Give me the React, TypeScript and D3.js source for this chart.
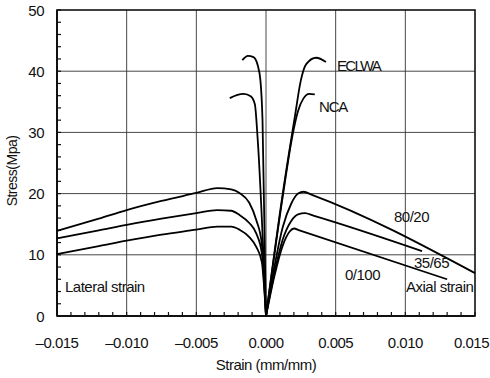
import * as d3 from 'd3'

// axis ticks
const xTicks = [-0.015, -0.01, -0.005, 0, 0.005, 0.01, 0.015]
const xTickLabels = ['–0.015', '–0.010', '–0.005', '0.000', '0.005', '0.010', '0.015']
const yTicks = [0, 10, 20, 30, 40, 50]
const yTickLabels = ['0', '10', '20', '30', '40', '50']

// lateral strain branches (negative strain)
const latX = [-0.015, -0.012, -0.01, -0.0075, -0.005, -0.0035, -0.0025, -0.0019, -0.0012, -0.0007, -0.0003, 0]
const lat8020 = [13.9, 15.9, 17.3, 18.8, 20.1, 20.9, 20.7, 20.1, 18.5, 15.7, 11.8, 0]
const lat3565 = [12.7, 14.0, 14.9, 15.9, 16.8, 17.3, 17.2, 16.5, 15.2, 13.5, 10.3, 0]
const lat0100 = [10.1, 11.4, 12.3, 13.3, 14.1, 14.6, 14.6, 14.1, 12.9, 11.3, 8.8, 0]

// axial strain branches
const ax8020X = [0, 0.0006, 0.0012, 0.0018, 0.0023, 0.0027, 0.0033, 0.015]
const ax8020 = [0, 8, 14.5, 18.3, 20.0, 20.3, 19.8, 7.0]
const ax3565X = [0, 0.0006, 0.0012, 0.0018, 0.0023, 0.0028, 0.0034, 0.0112]
const ax3565 = [0, 7, 12.5, 15.5, 16.6, 16.8, 16.4, 10.6]
const ax0100X = [0, 0.0006, 0.0012, 0.0017, 0.002, 0.0024, 0.013]
const ax0100 = [0, 6.5, 11.5, 13.8, 14.3, 14.0, 6.0]

// ECLWA / NCA
const eclwaLatX = [-0.0017, -0.0013, -0.0009, -0.0006, -0.0004, -0.00025, 0]
const eclwaLat = [41.8, 42.5, 42.3, 41.0, 38.5, 32, 0]
const eclwaAxX = [0, 0.0012, 0.0021, 0.0025, 0.0029, 0.0036, 0.0043]
const eclwaAx = [0, 20, 33, 38.5, 41.2, 42.2, 41.5]
const ncaLatX = [-0.0026, -0.0021, -0.0016, -0.0011, -0.0008, -0.0006, 0]
const ncaLat = [35.6, 36.1, 36.3, 35.9, 34.6, 29, 0]
const ncaAxX = [0, 0.0012, 0.0019, 0.0023, 0.0027, 0.0031, 0.0035]
const ncaAx = [0, 19.5, 29.5, 33.5, 35.6, 36.3, 36.2]

const curves: [number[], number[]][] = [
  [latX, lat8020], [latX, lat3565], [latX, lat0100],
  [ax8020X, ax8020], [ax3565X, ax3565], [ax0100X, ax0100],
  [eclwaLatX, eclwaLat], [eclwaAxX, eclwaAx],
  [ncaLatX, ncaLat], [ncaAxX, ncaAx],
]

const width = 490
const height = 378
const left = 57, right = 475, top = 10, bottom = 316

export default function App() {
  const x = d3.scaleLinear().domain([-0.015, 0.015]).range([left, right])
  const y = d3.scaleLinear().domain([0, 50]).range([bottom, top])

  const line = d3.line<[number, number]>()
    .x(d => x(d[0]))
    .y(d => y(d[1]))
    .curve(d3.curveMonotoneX)

  const minorX = d3.range(-15, 16).map(i => i / 1000)
  const minorY = d3.range(0, 51, 2)
  const font = { fontFamily: '"Liberation Sans", Arial, sans-serif', fontSize: 15, letterSpacing: -0.5, fill: '#111' }

  return (
    <svg width={width} height={height} style={{ position: 'absolute', left: 0, top: 0, background: '#fff' }}>
      {/* grid */}
      {xTicks.slice(1, -1).map(t => (
        <line key={'gx' + t} x1={x(t)} x2={x(t)} y1={top} y2={bottom} stroke="#333" strokeWidth={0.9} />
      ))}
      {yTicks.slice(1, -1).map(t => (
        <line key={'gy' + t} x1={left} x2={right} y1={y(t)} y2={y(t)} stroke="#333" strokeWidth={0.9} />
      ))}

      {/* minor ticks */}
      {minorX.map(t => (
        <line key={'mx' + t} x1={x(t)} x2={x(t)} y1={bottom} y2={bottom - 4} stroke="#111" strokeWidth={1.2} />
      ))}
      {minorY.map(t => (
        <line key={'my' + t} x1={left} x2={left + 4} y1={y(t)} y2={y(t)} stroke="#111" strokeWidth={1.2} />
      ))}

      {/* frame */}
      <rect x={left} y={top} width={right - left} height={bottom - top} fill="none" stroke="#111" strokeWidth={1.6} />
      <line x1={left} x2={left} y1={top} y2={bottom} stroke="#111" strokeWidth={2} />
      <line x1={left} x2={right} y1={bottom} y2={bottom} stroke="#111" strokeWidth={2} />

      {/* curves */}
      {curves.map(([xs, ys], i) => (
        <path key={'c' + i} d={line(xs.map((v, j) => [v, ys[j]] as [number, number])) || ''}
          fill="none" stroke="#000" strokeWidth={1.8} />
      ))}

      {/* tick labels */}
      {xTicks.map((t, i) => {
        const last = i === xTicks.length - 1
        return (
          <text key={'tx' + t} x={last ? 489 : x(t)} y={348} textAnchor={last ? 'end' : 'middle'} {...font}>
            {xTickLabels[i]}
          </text>
        )
      })}
      {yTicks.map((t, i) => (
        <text key={'ty' + t} x={44} y={y(t) + 5.5} textAnchor="end" {...font}>{yTickLabels[i]}</text>
      ))}

      {/* axis titles */}
      <text x={266} y={370} textAnchor="middle" {...font}>Strain (mm/mm)</text>
      <text transform="translate(17,171) rotate(-90)" textAnchor="middle" {...font} fontSize={14}>Stress(Mpa)</text>

      {/* annotations */}
      <text x={337} y={71} {...font} letterSpacing={-1.7}>ECLWA</text>
      <text x={319} y={112} {...font} letterSpacing={-1.2}>NCA</text>
      <text x={394} y={222} {...font}>80/20</text>
      <text x={414} y={268} {...font}>35/65</text>
      <text x={345} y={280} {...font}>0/100</text>
      <text x={406} y={292} {...font}>Axial strain</text>
      <text x={65} y={292} {...font}>Lateral strain</text>
    </svg>
  )
}
